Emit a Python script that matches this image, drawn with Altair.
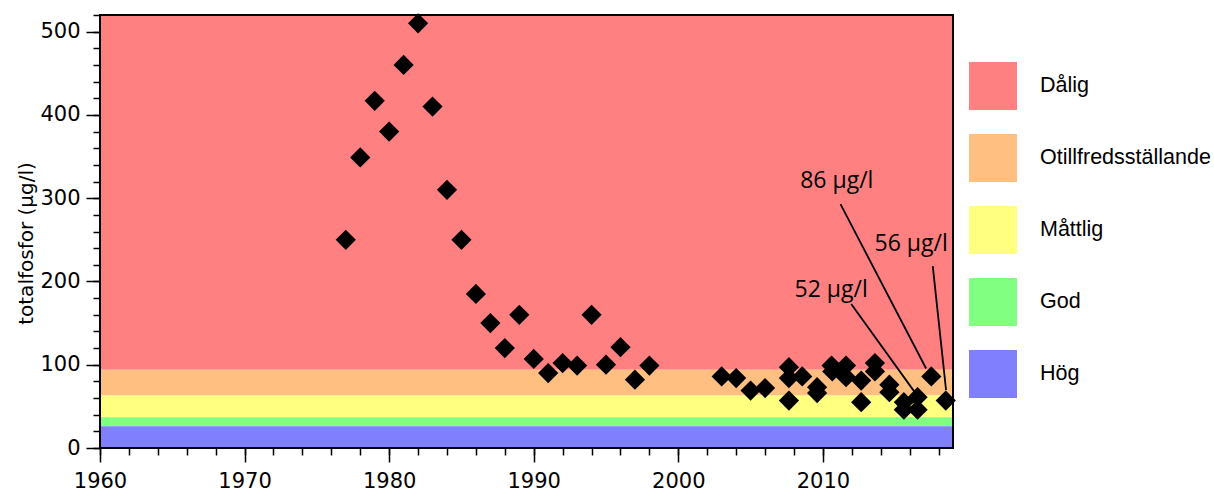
import altair as alt
import pandas as pd

# ---- axis extents and ticks ----
X_MIN, X_MAX = 1960, 2019
Y_MIN, Y_MAX = 0, 520
major_x = [1960, 1970, 1980, 1990, 2000, 2010]
minor_x = list(range(1960, 2019, 2))
major_y = [0, 100, 200, 300, 400, 500]
minor_y = list(range(0, 521, 20))

# ---- status classes (bands) ----
class_names = ["Dålig", "Otillfredsställande", "Måttlig", "God", "Hög"]
class_colors = ["#FF8080", "#FFBF80", "#FFFF80", "#80FF80", "#8080FF"]
class_lower = [94, 63, 37, 26, 0]
class_upper = [520, 94, 63, 37, 26]

# ---- measurements ----
years = [1977, 1978, 1979, 1980, 1981, 1982, 1983, 1984, 1985, 1986,
         1987, 1988, 1989, 1990, 1991, 1992, 1993, 1994, 1995, 1996,
         1997, 1998,
         2003.0, 2004.0, 2005.0, 2006.0,
         2007.65, 2007.65, 2007.65, 2008.57,
         2009.6, 2009.6, 2010.6, 2010.65, 2011.6, 2011.6,
         2012.65, 2012.65, 2013.6, 2013.6, 2014.6, 2014.6,
         2015.6, 2015.6, 2016.55, 2016.55, 2017.5, 2018.5]
values = [250, 349, 417, 380, 460, 510, 410, 310, 250, 185,
          150, 120, 160, 107, 90, 102, 99, 160, 100, 121,
          82, 99,
          86, 84, 69, 72,
          97, 84, 57, 86,
          73, 66, 99, 92, 99, 85,
          81, 55, 102, 92, 76, 67,
          55, 46, 61, 46, 86, 57]

# ---- annotations ----
label_texts = ["86 µg/l", "56 µg/l", "52 µg/l"]
label_x = [2008.43, 2013.57, 2008.04]
label_y = [312, 236.4, 181.6]
pointer_x_start = [2011.22, 2017.6, 2011.96]
pointer_y_start = [292.8, 218.5, 173]
pointer_x_end = [2017.14, 2018.52, 2016.34]
pointer_y_end = [95.5, 69.4, 67.4]

band_df = pd.DataFrame({"klass": class_names, "lo": class_lower, "hi": class_upper,
                        "x0": [X_MIN] * 5, "x1": [X_MAX] * 5})
pts_df = pd.DataFrame({"year": years, "value": values})
lab_df = pd.DataFrame({"t": label_texts, "x": label_x, "y": label_y})
ptr_df = pd.DataFrame({"xs": pointer_x_start, "ys": pointer_y_start,
                       "xe": pointer_x_end, "ye": pointer_y_end})
frame_df = pd.DataFrame({"x0": [X_MIN], "x1": [X_MAX], "y0": [Y_MIN], "y1": [Y_MAX]})

xs = alt.Scale(domain=[X_MIN, X_MAX], nice=False, zero=False)
ys = alt.Scale(domain=[Y_MIN, Y_MAX], nice=False, zero=False)

FONT = "DejaVu Sans"

bands = alt.Chart(band_df).mark_rect().encode(
    x=alt.X("x0:Q", scale=xs, axis=alt.Axis(
        values=major_x, format="d", orient="bottom", tickSize=14, tickWidth=1.5,
        tickColor="black", labelPadding=8, labelFontSize=21, labelFont=FONT,
        labelColor="black", labelFlush=False, labelOverlap=False,
        domain=False, grid=False, title=None)),
    x2="x1:Q",
    y=alt.Y("lo:Q", scale=ys, axis=alt.Axis(
        values=major_y, orient="left", tickSize=14, tickWidth=1.5, tickColor="black",
        labelPadding=6, labelFontSize=21, labelFont=FONT, labelColor="black",
        labelFlush=False, labelOverlap=False,
        domain=False, grid=False, title="totalfosfor (µg/l)", titleFontSize=20,
        titleFont=FONT, titleFontWeight="normal", titleColor="black",
        titleAngle=270, titleX=-68, titleY=228, titleAlign="center",
        titleBaseline="alphabetic")),
    y2="hi:Q",
    color=alt.Color("klass:N", scale=alt.Scale(domain=class_names, range=class_colors),
                    legend=alt.Legend(title=None, orient="none", legendX=869, legendY=47,
                                      symbolType="square", symbolSize=2304,
                                      symbolStrokeWidth=0, symbolOpacity=1,
                                      labelFontSize=21.5, labelFont="Liberation Sans",
                                      labelColor="black", labelOffset=23, rowPadding=24,
                                      padding=0, labelLimit=400)),
)

frame = alt.Chart(frame_df).mark_rect(filled=False, stroke="black", strokeWidth=2).encode(
    x=alt.X("x0:Q", scale=xs, axis=None), x2="x1:Q",
    y=alt.Y("y0:Q", scale=ys, axis=None), y2="y1:Q",
)

points = alt.Chart(pts_df).mark_point(shape="diamond", filled=True, size=410,
                                      color="black", opacity=1).encode(
    x=alt.X("year:Q", scale=xs, axis=alt.Axis(
        values=minor_x, orient="bottom", tickSize=7, tickWidth=1.5, tickColor="black",
        labels=False, domain=False, grid=False, title=None)),
    y=alt.Y("value:Q", scale=ys, axis=alt.Axis(
        values=minor_y, orient="left", tickSize=7, tickWidth=1.5, tickColor="black",
        labels=False, domain=False, grid=False, title=None)),
)

pointers = alt.Chart(ptr_df).mark_rule(color="black", strokeWidth=1.8).encode(
    x=alt.X("xs:Q", scale=xs, axis=None), x2="xe:Q",
    y=alt.Y("ys:Q", scale=ys, axis=None), y2="ye:Q",
)

labels = alt.Chart(lab_df).mark_text(align="left", baseline="alphabetic", font="Open Sans",
                                     fontSize=23, color="black").encode(
    x=alt.X("x:Q", scale=xs, axis=None),
    y=alt.Y("y:Q", scale=ys, axis=None),
    text="t:N",
)

chart = alt.layer(bands, frame, points, pointers, labels).resolve_axis(
    x="independent", y="independent"
).properties(
    width=853, height=433,
    autosize=alt.AutoSizeParams(type="none"),
    padding={"left": 100, "top": 15, "right": 261, "bottom": 43},
).configure_view(strokeWidth=0).configure(background="white")

chart.save("out.html", embed_options={"renderer": "svg", "actions": False})
